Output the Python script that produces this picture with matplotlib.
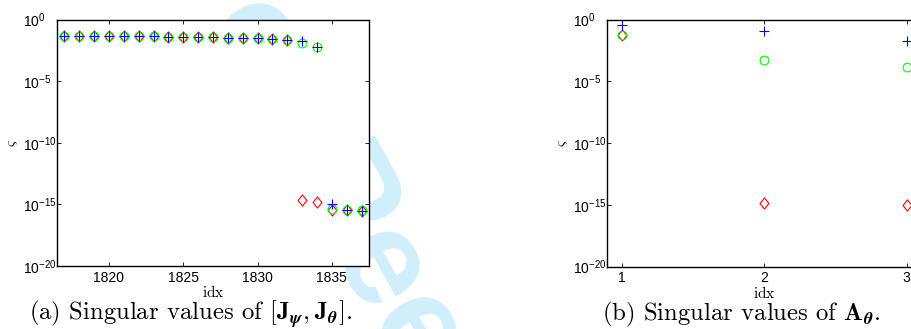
import matplotlib
matplotlib.use("Agg")
import matplotlib.pyplot as plt
from matplotlib.path import Path
from matplotlib.ticker import NullLocator, FixedLocator

plt.rcParams['font.family'] = 'Liberation Sans'
plt.rcParams['mathtext.fontset'] = 'custom'
plt.rcParams['mathtext.rm'] = 'Liberation Sans'
plt.rcParams['mathtext.it'] = 'Liberation Sans:italic'
plt.rcParams['mathtext.bf'] = 'Liberation Sans:bold'

# singular values of [J_psi, J_theta]
idx_a = [1817, 1818, 1819, 1820, 1821, 1822, 1823, 1824, 1825, 1826, 1827,
         1828, 1829, 1830, 1831, 1832, 1833, 1834, 1835, 1836, 1837]
top_a = [4.9e-2, 4.9e-2, 4.9e-2, 4.6e-2, 4.6e-2, 4.45e-2, 4.3e-2, 4.1e-2,
         4.1e-2, 3.8e-2, 3.6e-2, 3.4e-2, 3.2e-2, 3.0e-2, 2.5e-2, 2.2e-2]
red_a = top_a + [2.3e-15, 1.6e-15, 3.5e-16, 3.4e-16, 3.1e-16]
green_a = top_a + [1.17e-2, 6.3e-3, 4.3e-16, 3.5e-16, 3.2e-16]
blue_a = top_a + [1.9e-2, 6.3e-3, 1.0e-15, 3.4e-16, 2.9e-16]

# singular values of A_theta
idx_b = [1, 2, 3]
red_b = [5.4e-2, 1.35e-15, 9.1e-16]
green_b = [5.4e-2, 5.1e-4, 1.5e-4]
blue_b = [3.5e-1, 1.1e-1, 1.8e-2]

yticks = [1e-20, 1e-15, 1e-10, 1e-5, 1e0]
xticks_a = [1820, 1825, 1830, 1835]
xticks_b = [1, 2, 3]

diamond = Path([(0, 1), (0.8, 0), (0, -1), (-0.8, 0), (0, 1)],
               [Path.MOVETO, Path.LINETO, Path.LINETO, Path.LINETO, Path.CLOSEPOLY])

W, H = 912, 329
fig = plt.figure(figsize=(W / 100, H / 100), dpi=100)

# "For Peer Review" stamp behind the plots
fig.text(165 / W, 1 + 50 / H, 'For Peer Review', fontsize=97, fontweight='bold',
         color='#d0eefb', rotation=-61, rotation_mode='anchor',
         ha='left', va='baseline', zorder=-10)

ax1 = fig.add_axes([57 / W, 1 - 266 / H, 312 / W, 246.5 / H])
ax2 = fig.add_axes([607.5 / W, 1 - 266.5 / H, 313.5 / W, 247 / H])


def draw(ax, x, red, green, blue):
    ax.semilogy(x, red, linestyle='none', marker=diamond, markersize=8,
                markerfacecolor='none', markeredgecolor='red', markeredgewidth=0.8)
    ax.semilogy(x, green, linestyle='none', marker='o', markersize=6.3,
                markerfacecolor='none', markeredgecolor='#00ff00', markeredgewidth=0.8)
    ax.semilogy(x, blue, linestyle='none', marker='+', markersize=7,
                markeredgecolor='blue', markeredgewidth=0.8)


draw(ax1, idx_a, red_a, green_a, blue_a)
draw(ax2, idx_b, red_b, green_b, blue_b)

ax1.set_xlim(1816.5, 1837.5)
ax1.xaxis.set_major_locator(FixedLocator(xticks_a))
ax2.set_xlim(0.9, 3.1)
ax2.xaxis.set_major_locator(FixedLocator(xticks_b))

for ax in (ax1, ax2):
    ax.set_facecolor('white')
    ax.set_ylim(1e-20, 1e0)
    ax.yaxis.set_major_locator(FixedLocator(yticks))
    ax.yaxis.set_minor_locator(NullLocator())
    ax.tick_params(direction='in', top=True, right=True, length=3, width=0.6,
                   labelsize=10, colors='black')
    ax.tick_params(axis='y', pad=24.5)
    for lab in ax.get_yticklabels():
        lab.set_horizontalalignment('left')
    for sp in ax.spines.values():
        sp.set_linewidth(1.0)
    ax.set_xlabel(r'$\mathrm{idx}$', math_fontfamily='cm', fontsize=11)
    ax.xaxis.set_label_coords(0.5, -0.075)
    ax.set_ylabel(r'$\varsigma$', math_fontfamily='cm', fontsize=11, rotation=90)
    ax.yaxis.set_label_coords(-0.12, 0.5)

fig.text(190 / W, 1 - 314 / H,
         r'(a) Singular values of $[\mathbf{J}_{\boldsymbol{\psi}},\mathbf{J}_{\boldsymbol{\theta}}]$.',
         family='cmr10', math_fontfamily='cm', fontsize=17.8, ha='center', va='center')
fig.text(741 / W, 1 - 314 / H,
         r'(b) Singular values of $\mathbf{A}_{\boldsymbol{\theta}}$.',
         family='cmr10', math_fontfamily='cm', fontsize=17.8, ha='center', va='center')

fig.savefig('out.png', dpi=100)
